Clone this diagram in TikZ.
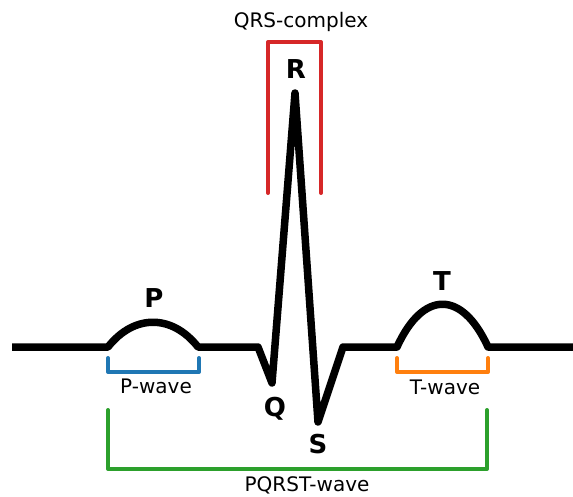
\documentclass[tikz,border=0pt]{standalone}
\usepackage{fontspec}
\setmainfont{DejaVu Sans}
\definecolor{qrsred}{HTML}{D62728}
\definecolor{pblue}{HTML}{1F77B4}
\definecolor{torange}{HTML}{FF7F0E}
\definecolor{allgreen}{HTML}{2CA02C}
\begin{document}
\begin{tikzpicture}[
			x=1pt, y=-1pt,
			line join=round,
			trace/.style={draw=black, line width=7.5pt},
			brace/.style={line width=4pt, line cap=round},
			peak/.style={font=\fontsize{26}{30}\selectfont\bfseries, anchor=base, inner sep=0pt},
			lbl/.style={font=\fontsize{20}{24}\selectfont, anchor=base, inner sep=0pt}
			]
			\useasboundingbox (0,0) rectangle (573,497);
			
			% trace
			\coordinate (start) at (12,347);
			\coordinate (p0) at (108,347);
			\coordinate (p1) at (198,347);
			\coordinate (q0) at (258,347);
			\coordinate (q) at (272,383);
			\coordinate (r) at (295,93);
			\coordinate (s) at (318,422);
			\coordinate (s1) at (343,347);
			\coordinate (t0) at (397,347);
			\coordinate (t1) at (488,347);
			\coordinate (stop) at (573,347);
			\draw[trace] (start)--(p0) .. controls (134,314) and (172,314) .. (p1)
				--(q0)--(q)--(r)--(s)--(s1)--(t0)
				.. controls (423,290) and (462,290) .. (t1)--(stop);
			
			\node[peak] (P) at (154,307) {P};
			\node[peak] (Q) at (275,416) {Q};
			\node[peak] (R) at (296,79) {R};
			\node[peak] (S) at (318,453) {S};
			\node[peak] (T) at (442,290) {T};
			
			% brackets
			\draw[brace, qrsred] (268,193)--(268,42)--(321,42)--(321,193);
			\node[lbl] (qrs) at (301,28) {QRS-complex};
			
			\draw[brace, pblue] (108,358)--(108,372)--(199,372)--(199,358);
			\node[lbl] (pwave) at (156,393) {P-wave};
			
			\draw[brace, torange] (397,358)--(397,372)--(488,372)--(488,358);
			\node[lbl] (twave) at (445,394) {T-wave};
			
			\draw[brace, allgreen] (108,410)--(108,469)--(487,469)--(487,410);
			\node[lbl] (pqrst) at (307,491) {PQRST-wave};
		\end{tikzpicture}
\end{document}
